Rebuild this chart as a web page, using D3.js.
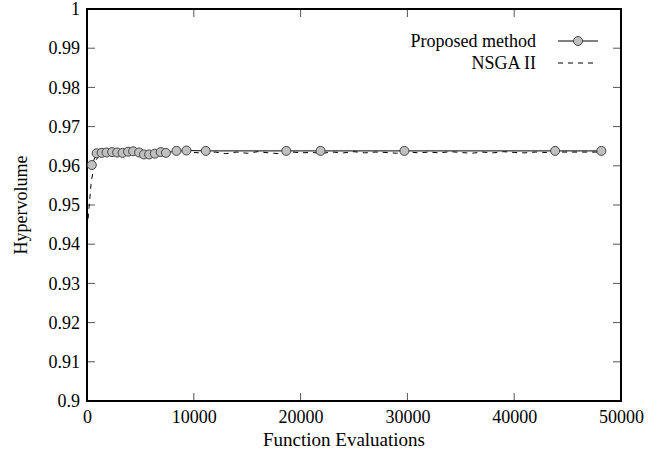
<!DOCTYPE html>
<html>
<head>
<meta charset="utf-8">
<script src="https://cdn.jsdelivr.net/npm/d3@7"></script>
<style>
  html, body { margin: 0; padding: 0; background: #fff; }
  svg text { font-family: "Liberation Serif", "Times New Roman", serif; fill: #000; }
</style>
</head>
<body>
<svg id="chart" width="664" height="454"></svg>
<script>
// Hypervolume convergence: proposed method vs. NSGA II
const proposedEvals = [450, 900, 1370, 1830, 2350, 2820, 3330, 3850, 4320, 4880, 5330, 5820, 6350, 6900, 7390, 8380, 9310, 11120, 18660, 21870, 29720, 43830, 48160];
const proposedHV    = [0.9602, 0.9632, 0.9633, 0.9634, 0.9635, 0.9634, 0.9633, 0.9636, 0.9637, 0.9634, 0.9629, 0.9629, 0.9631, 0.9635, 0.9633, 0.9638, 0.9639, 0.9638, 0.9638, 0.9638, 0.9638, 0.9638, 0.9638];

const nsgaEvals = [100, 400, 700, 1000, 1500, 2000, 3000, 4000, 5000, 6000, 7000, 8000, 9000, 10000, 11000, 12000, 13000, 14000, 15000, 16000, 17000, 18000, 19000, 20000, 21000, 22000, 23000, 24000, 25000, 26000, 27000, 28000, 29000, 30000, 31000, 32000, 33000, 34000, 35000, 36000, 37000, 38000, 39000, 40000, 41000, 42000, 43000, 44000, 45000, 46000, 47000, 48500];
const nsgaHV    = [0.9465, 0.9560, 0.9605, 0.9622, 0.9630, 0.9633, 0.9634, 0.9633, 0.9635, 0.9634, 0.9633, 0.9635, 0.9636, 0.9634, 0.9632, 0.9635, 0.9631, 0.9635, 0.9632, 0.9636, 0.9633, 0.9631, 0.9636, 0.9633, 0.9634, 0.9632, 0.9635, 0.9633, 0.9636, 0.9633, 0.9635, 0.9634, 0.9632, 0.9636, 0.9633, 0.9635, 0.9633, 0.9636, 0.9634, 0.9632, 0.9635, 0.9633, 0.9636, 0.9634, 0.9633, 0.9635, 0.9634, 0.9635, 0.9635, 0.9635, 0.9635, 0.9635];

const xTicks = [0, 10000, 20000, 30000, 40000, 50000];
const yTicks = [0.9, 0.91, 0.92, 0.93, 0.94, 0.95, 0.96, 0.97, 0.98, 0.99, 1];
const seriesNames = ["Proposed method", "NSGA II"];

const svg = d3.select("#chart");
const plotL = 87, plotR = 621, plotT = 9, plotB = 401;

const x = d3.scaleLinear().domain([0, 50000]).range([plotL, plotR]);
const y = d3.scaleLinear().domain([0.9, 1]).range([plotB, plotT]);

const tickLen = 8;
const fmtY = v => (v === 1 ? "1" : (v === 0.9 ? "0.9" : d3.format(".2f")(v)));

// tick marks on all four sides, pointing inward
const ticks = svg.append("g").attr("stroke", "#555").attr("stroke-width", 1);
xTicks.slice(1, -1).forEach(t => {
  ticks.append("line").attr("x1", x(t)).attr("x2", x(t)).attr("y1", plotB).attr("y2", plotB - tickLen);
  ticks.append("line").attr("x1", x(t)).attr("x2", x(t)).attr("y1", plotT).attr("y2", plotT + tickLen);
});
yTicks.slice(1, -1).forEach(t => {
  ticks.append("line").attr("x1", plotL).attr("x2", plotL + tickLen).attr("y1", y(t)).attr("y2", y(t));
  ticks.append("line").attr("x1", plotR).attr("x2", plotR - tickLen).attr("y1", y(t)).attr("y2", y(t));
});

// axis labels via d3 axes (lines hidden, labels kept)
const xAxis = svg.append("g").attr("transform", `translate(0,${plotB})`)
  .call(d3.axisBottom(x).tickValues(xTicks).tickFormat(d3.format("d")).tickSize(0).tickPadding(9));
const yAxis = svg.append("g").attr("transform", `translate(${plotL},0)`)
  .call(d3.axisLeft(y).tickValues(yTicks).tickFormat(fmtY).tickSize(0).tickPadding(7));
[xAxis, yAxis].forEach(g => {
  g.select(".domain").remove();
  g.selectAll("text").attr("font-family", "Liberation Serif").attr("font-size", 18).attr("fill", "#000");
});

// frame
svg.append("rect").attr("x", plotL).attr("y", plotT).attr("width", plotR - plotL).attr("height", plotB - plotT)
  .attr("fill", "none").attr("stroke", "#000").attr("stroke-width", 2);

// NSGA II dashed line
const line = d3.line().x(d => x(d[0])).y(d => y(d[1]));
const nsga = nsgaEvals.map((e, i) => [e, nsgaHV[i]]);
svg.append("path").datum(nsga).attr("d", line)
  .attr("fill", "none").attr("stroke", "#000").attr("stroke-width", 1).attr("stroke-dasharray", "5,5");

// Proposed method solid line with circle markers
const prop = proposedEvals.map((e, i) => [e, proposedHV[i]]);
svg.append("path").datum(prop).attr("d", line)
  .attr("fill", "none").attr("stroke", "#000").attr("stroke-width", 1);
svg.append("g").selectAll("circle").data(prop).join("circle")
  .attr("cx", d => x(d[0])).attr("cy", d => y(d[1])).attr("r", 4.5)
  .attr("fill", "#c0c0c0").attr("stroke", "#444").attr("stroke-width", 1);

// axis titles
svg.append("text").attr("x", 344).attr("y", 446).attr("text-anchor", "middle")
  .attr("font-size", 19).text("Function Evaluations");
svg.append("text").attr("transform", "translate(27,205) rotate(-90)").attr("text-anchor", "middle")
  .attr("font-size", 18).text("Hypervolume");

// legend
const lg = svg.append("g");
lg.append("text").attr("x", 536).attr("y", 47).attr("text-anchor", "end").attr("font-size", 18).text(seriesNames[0]);
lg.append("text").attr("x", 536).attr("y", 69).attr("text-anchor", "end").attr("font-size", 18).text(seriesNames[1]);
lg.append("line").attr("x1", 558).attr("x2", 598).attr("y1", 41).attr("y2", 41).attr("stroke", "#000");
lg.append("circle").attr("cx", 578).attr("cy", 41).attr("r", 4.5).attr("fill", "#c0c0c0").attr("stroke", "#444");
lg.append("line").attr("x1", 558).attr("x2", 598).attr("y1", 63).attr("y2", 63).attr("stroke", "#000").attr("stroke-dasharray", "5,5");
</script>
</body>
</html>
